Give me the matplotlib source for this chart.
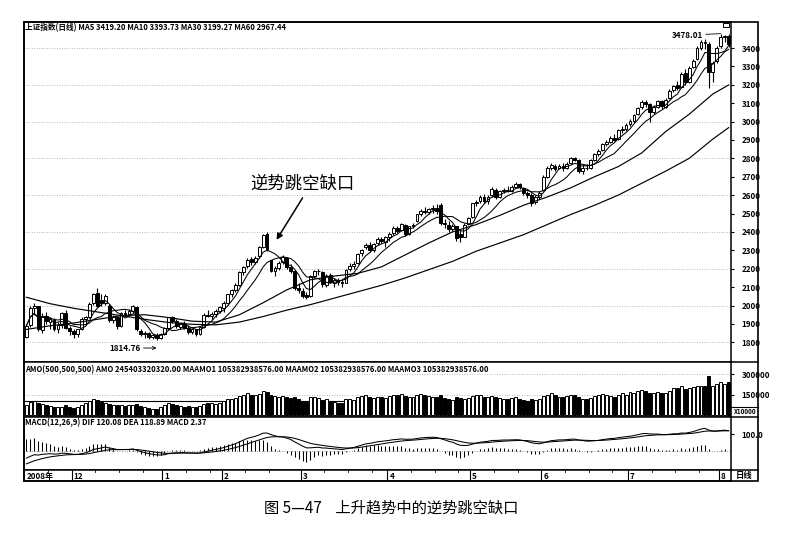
import numpy as np
import pandas as pd
import matplotlib
matplotlib.use("Agg")
import matplotlib.pyplot as plt
from matplotlib.patches import Rectangle
from matplotlib.lines import Line2D

plt.rcParams['font.family'] = ['Noto Sans CJK SC', 'DejaVu Sans']

# daily candles, 2008-11-13 .. 2009-08-05
opens = [
    # Nov
    1830, 1895, 1985, 1995, 1865, 1945, 1910, 1920, 1870, 1895, 1960, 1880,
    # Dec
    1860, 1845, 1870, 1925, 1935, 2015, 2070, 2030, 2015, 2000, 1920, 1935,
    1890, 1960, 1955, 1970, 1990, 1860, 1845, 1850, 1830, 1840, 1825,
    # Jan
    1845, 1880, 1935, 1915, 1885, 1900, 1880, 1855, 1870, 1845, 1885, 1950,
    1945, 1955, 1970,
    # Feb
    1985, 2015, 2060, 2085, 2110, 2180, 2215, 2255, 2235, 2270, 2320, 2390,
    2245, 2185, 2205, 2235, 2260, 2210, 2185, 2095,
    # Mar
    2080, 2055, 2050, 2160, 2185, 2180, 2110, 2165, 2125, 2140, 2130, 2125,
    2200, 2215, 2230, 2285, 2320, 2330, 2300, 2340, 2360, 2345,
    # Apr
    2375, 2395, 2420, 2410, 2440, 2390, 2430, 2460, 2495, 2515, 2510, 2525,
    2530, 2545, 2450, 2440, 2415, 2430, 2390, 2375, 2445,
    # May
    2480, 2555, 2570, 2590, 2570, 2600, 2630, 2590, 2620, 2630, 2625, 2645,
    2660, 2640, 2610, 2600, 2565, 2590,
    # Jun
    2630, 2700, 2750, 2760, 2745, 2760, 2745, 2775, 2800, 2790, 2730, 2750,
    2745, 2790, 2825, 2845, 2880, 2890, 2910, 2905, 2955, 2960,
    # Jul
    2985, 3005, 3040, 3080, 3105, 3095, 3050, 3080, 3110, 3080, 3130, 3170,
    3200, 3190, 3265, 3215, 3295, 3340, 3400, 3435, 3420, 3270, 3330,
    # Aug
    3410, 3460, 3465,
]
highs = [
    1900, 2000, 2015, 2000, 1960, 1965, 1935, 1930, 1910, 1965, 1975, 1890,
    1875, 1875, 1935, 1945, 2020, 2070, 2095, 2060, 2060, 2010, 1950, 1945,
    1965, 1975, 1980, 2005, 1995, 1870, 1860, 1855, 1845, 1850, 1850,
    1885, 1940, 1945, 1925, 1905, 1915, 1895, 1880, 1875, 1890, 1960, 1975,
    1965, 1980, 1995,
    2025, 2065, 2090, 2120, 2185, 2215, 2260, 2265, 2270, 2325, 2390, 2400,
    2250, 2215, 2240, 2275, 2265, 2225, 2195, 2120,
    2095, 2075, 2165, 2195, 2200, 2190, 2170, 2175, 2150, 2150, 2140, 2200,
    2230, 2240, 2285, 2305, 2340, 2345, 2340, 2370, 2375, 2380,
    2400, 2430, 2430, 2450, 2445, 2435, 2450, 2500, 2525, 2535, 2530, 2545,
    2550, 2560, 2470, 2460, 2445, 2435, 2410, 2450, 2480,
    2560, 2575, 2600, 2605, 2600, 2645, 2640, 2630, 2640, 2650, 2655, 2670,
    2665, 2645, 2625, 2610, 2600, 2620,
    2710, 2760, 2775, 2770, 2770, 2775, 2780, 2805, 2810, 2795, 2765, 2770,
    2795, 2830, 2850, 2885, 2900, 2920, 2930, 2960, 2975, 2990,
    3015, 3040, 3080, 3115, 3120, 3100, 3090, 3115, 3115, 3130, 3175, 3200,
    3220, 3270, 3285, 3300, 3340, 3410, 3445, 3450, 3430, 3330, 3410,
    3478.01, 3470, 3475,
]
lows = [
    1825, 1885, 1950, 1860, 1850, 1900, 1870, 1860, 1850, 1880, 1870, 1840,
    1825, 1830, 1865, 1895, 1930, 2005, 1990, 2000, 2005, 1910, 1905, 1875,
    1885, 1945, 1945, 1960, 1860, 1835, 1825, 1820, 1817, 1814.76, 1820,
    1840, 1875, 1905, 1880, 1870, 1870, 1845, 1845, 1835, 1840, 1880, 1935,
    1925, 1940, 1960,
    1965, 2005, 2045, 2075, 2105, 2165, 2205, 2220, 2225, 2260, 2315, 2295,
    2180, 2160, 2195, 2225, 2200, 2175, 2085, 2070,
    2040, 2035, 2045, 2150, 2165, 2100, 2100, 2120, 2100, 2110, 2100, 2120,
    2190, 2200, 2225, 2270, 2310, 2290, 2290, 2330, 2340, 2320,
    2350, 2385, 2395, 2405, 2380, 2385, 2420, 2455, 2485, 2500, 2495, 2505,
    2500, 2440, 2420, 2400, 2405, 2350, 2345, 2370, 2440,
    2478, 2540, 2555, 2560, 2550, 2590, 2580, 2585, 2610, 2615, 2615, 2640,
    2635, 2600, 2585, 2540, 2550, 2580,
    2625, 2695, 2735, 2730, 2740, 2730, 2740, 2770, 2785, 2720, 2715, 2735,
    2740, 2785, 2815, 2840, 2865, 2885, 2895, 2900, 2940, 2950,
    2975, 2995, 3035, 3070, 3080, 3000, 3040, 3075, 3070, 3075, 3125, 3160,
    3170, 3185, 3200, 3210, 3290, 3335, 3390, 3395, 3180, 3215, 3320,
    3400, 3430, 3405,
]
closes = [
    1890, 1985, 1995, 1870, 1945, 1915, 1925, 1870, 1895, 1960, 1880, 1860,
    1845, 1870, 1925, 1935, 2010, 2060, 2000, 2015, 2050, 1920, 1935, 1890,
    1960, 1955, 1970, 2000, 1870, 1845, 1850, 1830, 1840, 1825, 1845,
    1880, 1935, 1915, 1890, 1900, 1880, 1855, 1870, 1845, 1885, 1950, 1945,
    1955, 1970, 1990,
    2015, 2060, 2085, 2110, 2180, 2210, 2250, 2235, 2260, 2320, 2385, 2305,
    2190, 2205, 2230, 2265, 2210, 2185, 2095, 2085,
    2050, 2045, 2160, 2185, 2190, 2115, 2160, 2130, 2140, 2130, 2125, 2195,
    2215, 2225, 2280, 2300, 2330, 2300, 2335, 2360, 2350, 2370,
    2390, 2420, 2405, 2445, 2390, 2430, 2440, 2495, 2515, 2510, 2525, 2530,
    2515, 2450, 2445, 2415, 2435, 2365, 2370, 2440, 2475,
    2555, 2565, 2590, 2570, 2590, 2635, 2590, 2620, 2630, 2625, 2645, 2660,
    2645, 2610, 2600, 2560, 2590, 2610,
    2700, 2750, 2765, 2740, 2760, 2745, 2770, 2800, 2790, 2730, 2750, 2745,
    2790, 2825, 2840, 2880, 2890, 2910, 2900, 2955, 2960, 2980,
    3005, 3035, 3075, 3105, 3095, 3050, 3080, 3110, 3085, 3120, 3165, 3195,
    3180, 3260, 3215, 3290, 3330, 3400, 3435, 3425, 3270, 3320, 3400,
    3460, 3465, 3420,
]
# turnover, axis units
amount = [
    75000, 95000, 100000, 85000, 80000, 70000, 65000, 60000, 55000, 60000, 70000, 55000,
    50000, 60000, 75000, 85000, 100000, 120000, 110000, 95000, 90000, 80000, 70000, 75000,
    70000, 65000, 70000, 75000, 80000, 65000, 55000, 50000, 45000, 45000, 55000,
    70000, 85000, 80000, 70000, 65000, 60000, 65000, 60000, 55000, 65000, 80000, 90000,
    85000, 80000, 85000,
    100000, 115000, 120000, 125000, 140000, 150000, 160000, 150000, 145000, 155000, 175000, 170000,
    150000, 140000, 130000, 140000, 135000, 125000, 130000, 115000,
    100000, 95000, 130000, 135000, 125000, 110000, 115000, 100000, 95000, 90000, 85000, 115000,
    120000, 110000, 130000, 140000, 145000, 130000, 125000, 135000, 130000, 125000,
    140000, 150000, 145000, 155000, 140000, 130000, 135000, 150000, 155000, 145000, 140000, 135000,
    130000, 150000, 125000, 115000, 110000, 130000, 125000, 120000, 125000,
    140000, 145000, 150000, 135000, 130000, 140000, 135000, 125000, 120000, 115000, 125000, 130000,
    120000, 110000, 105000, 115000, 110000, 120000,
    140000, 150000, 160000, 145000, 130000, 135000, 140000, 150000, 145000, 135000, 120000, 115000,
    125000, 140000, 145000, 155000, 150000, 140000, 130000, 150000, 160000, 150000,
    170000, 165000, 175000, 185000, 175000, 165000, 160000, 170000, 160000, 165000, 175000, 195000,
    200000, 210000, 190000, 200000, 205000, 210000, 215000, 210000, 285000, 215000, 225000,
    240000, 230000, 245403,
]
amo_ma = 105383

# MA30 / MA60 read every 6 candles
ma_idx = [0, 6, 12, 18, 24, 30, 36, 42, 48, 54, 60, 66, 72, 78, 84, 90, 96, 102,
          108, 114, 120, 126, 132, 138, 144, 150, 156, 162, 168, 174, 178]
ma30_pts = [1870, 1890, 1905, 1925, 1945, 1950, 1935, 1915, 1910, 1950, 2015, 2085,
            2140, 2160, 2175, 2210, 2275, 2340, 2400, 2440, 2490, 2545, 2590, 2640,
            2700, 2755, 2830, 2945, 3040, 3150, 3199]
ma60_pts = [2045, 2010, 1985, 1965, 1945, 1925, 1908, 1898, 1895, 1910, 1940, 1975,
            2005, 2040, 2075, 2110, 2150, 2195, 2240, 2295, 2340, 2385, 2440, 2495,
            2545, 2600, 2665, 2730, 2800, 2905, 2967]

# MACD state at the left edge
ema12_start, ema26_start, dea_start = 1890.0, 1940.0, -90.0

month_idx = [0, 12, 35, 50, 70, 92, 113, 131, 153, 176]
month_lbl = ['2008年', '12', '1', '2', '3', '4', '5', '6', '7', '8']

n = len(closes)
x = np.arange(n)
cs = pd.Series(closes)
ma5 = cs.rolling(5, min_periods=1).mean()
ma10 = cs.rolling(10, min_periods=1).mean()

e12, e26, dea = ema12_start, ema26_start, dea_start
dif_l, dea_l = [], []
for c in closes:
    e12 += (c - e12) * 2 / 13
    e26 += (c - e26) * 2 / 27
    d = e12 - e26
    dea += (d - dea) * 2 / 10
    dif_l.append(d)
    dea_l.append(dea)
dif_a = np.array(dif_l)
dea_a = np.array(dea_l)
macd = 2 * (dif_a - dea_a)

W, H = 790, 541
fig = plt.figure(figsize=(7.9, 5.41), dpi=100)
fig.patch.set_facecolor('white')


def fx(px):
    return px / W


def fy(py):
    return 1 - py / H


L, R, RR = 24, 731, 758
top, b1, b2, b3, b4 = 21.7, 362, 417, 470, 481
small = 5.8

ax = fig.add_axes([fx(L), fy(b1), (R - L) / W, (b1 - top) / H])
axv = fig.add_axes([fx(L), fy(b2), (R - L) / W, (b2 - b1) / H])
axm = fig.add_axes([fx(L), fy(b3), (R - L) / W, (b3 - b2) / H])
axd = fig.add_axes([fx(L), fy(b4), (R - L) / W, (b4 - b3) / H])

xlim = (-0.6, n - 0.4)
dot = (0, (1, 2))
for a in (ax, axv, axm, axd):
    a.set_xlim(*xlim)
    a.set_xticks([])
    for s in a.spines.values():
        s.set_linewidth(1.1)
    a.tick_params(axis='y', which='both', length=2.5, width=0.8, pad=5,
                  labelsize=small, right=True, left=False, labelright=True, labelleft=False)

# ---- price panel
ax.set_ylim(1693, 3543)
for g in range(1800, 3500, 200):
    ax.axhline(g, color='#a0a0a0', lw=0.6, ls=dot, zorder=0)
up = [c >= o for o, c in zip(opens, closes)]
ax.vlines(x, lows, highs, color='black', lw=0.8, zorder=2)
body_b = [min(o, c) for o, c in zip(opens, closes)]
body_h = [max(abs(c - o), 2) for o, c in zip(opens, closes)]
ax.bar(x, body_h, bottom=body_b, width=0.72,
       color=['white' if u else 'black' for u in up],
       edgecolor='black', linewidth=0.7, zorder=3)
ax.plot(x, ma5, color='black', lw=0.75, zorder=4)
ax.plot(x, ma10, color='black', lw=0.75, zorder=4)
ax.plot(ma_idx, ma30_pts, color='black', lw=0.85, zorder=4)
ax.plot(ma_idx, ma60_pts, color='black', lw=0.85, zorder=4)
ax.set_yticks(range(1800, 3500, 100))
ax.set_yticklabels([str(v) for v in range(1800, 3500, 100)], fontweight='bold')

low_i = int(np.argmin(lows))
high_i = int(np.argmax(highs))
ax.annotate('1814.76', xy=(low_i, 1769), xytext=(low_i - 4, 1769),
            fontsize=small, fontweight='bold', ha='right', va='center',
            arrowprops=dict(arrowstyle='->', lw=0.6, color='black', shrinkA=0, shrinkB=0))
ax.annotate('3478.01', xy=(high_i, 3478.01), xytext=(high_i - 4.5, 3470),
            fontsize=small, fontweight='bold', ha='right', va='center',
            arrowprops=dict(arrowstyle='-', lw=0.6, color='black', shrinkA=0, shrinkB=0))
ax.annotate('', xy=(63.4, 2357), xytext=(70, 2585),
            arrowprops=dict(arrowstyle='-|>', lw=1.1, color='black', mutation_scale=9,
                            shrinkA=0, shrinkB=0))
ax.text(70, 2660, '逆势跳空缺口', fontsize=12.5, ha='center', va='center')

# ---- amount panel
axv.set_ylim(-15000, 390000)
for g in (150000, 300000):
    axv.axhline(g, color='#a0a0a0', lw=0.6, ls=dot, zorder=0)
axv.axhline(amo_ma, color='black', lw=0.8, zorder=1)
axv.bar(x, amount, width=0.75, color=['white' if u else 'black' for u in up],
        edgecolor='black', linewidth=0.7, zorder=2)
axv.set_yticks([150000, 300000])
axv.set_yticklabels(['150000', '300000'], fontweight='bold')

# ---- MACD panel
axm.set_ylim(-119, 206)
axm.axhline(0, color='#777777', lw=0.6, ls=dot, zorder=0)
axm.vlines(x, 0, macd, color='black', lw=0.75)
axm.plot(x, dif_a, color='black', lw=0.75)
axm.plot(x, dea_a, color='black', lw=0.75)
axm.set_yticks([100])
axm.set_yticklabels(['100.0'], fontweight='bold')

# ---- date row
axd.set_ylim(0, 1)
axd.set_yticks([])
for i, lab in zip(month_idx, month_lbl):
    if i > 0:
        axd.axvline(i - 0.5, color='black', lw=0.8)
    axd.text(i - 0.5 + 0.5, 0.45, lab, fontsize=small, fontweight='bold', va='center', ha='left')
for s, e in zip(month_idx, month_idx[1:] + [n]):
    for k in range(s + 6, e - 2, 6):
        axd.plot([k - 0.5, k - 0.5], [0.8, 1.0], color='black', lw=0.6)

# ---- header texts
fig.text(fx(25), fy(27.5), '上证指数(日线) MA5 3419.20 MA10 3393.73 MA30 3199.27 MA60 2967.44',
         fontsize=5.5, fontweight='bold', va='center', ha='left')
fig.text(fx(25), fy(369.5), 'AMO(500,500,500) AMO 245403320320.00 MAAMO1 105382938576.00 '
         'MAAMO2 105382938576.00 MAAMO3 105382938576.00',
         fontsize=5.5, fontweight='bold', va='center', ha='left')
fig.text(fx(25), fy(422.5), 'MACD(12,26,9) DIF 120.08 DEA 118.89 MACD 2.37',
         fontsize=5.5, fontweight='bold', va='center', ha='left')

# ---- right column frame
def fline(x0, y0, x1, y1, lw=1.1):
    fig.add_artist(Line2D([fx(x0), fx(x1)], [fy(y0), fy(y1)], color='black', lw=lw))


fig.add_artist(Rectangle((fx(L), fy(b4)), (RR - L) / W, (b4 - top) / H, fill=False,
                         edgecolor='black', lw=1.2))
for yy in (b1, b2, b3):
    fline(R, yy, RR, yy)
fline(R, 406.5, RR, 406.5, lw=0.8)
fig.text(fx(745), fy(411), 'X10000', fontsize=4.5, fontweight='bold', ha='center', va='center')
fig.text(fx(744.5), fy(475.5), '日线', fontsize=6, fontweight='bold', ha='center', va='center')
fig.add_artist(Rectangle((fx(723), fy(27)), 6 / W, 4.5 / H, fill=False, edgecolor='black', lw=0.7))

fig.text(fx(391), fy(508), '图 5—47    上升趋势中的逆势跳空缺口', fontsize=11,
         ha='center', va='center')

fig.savefig('out.png', dpi=100, facecolor='white')
